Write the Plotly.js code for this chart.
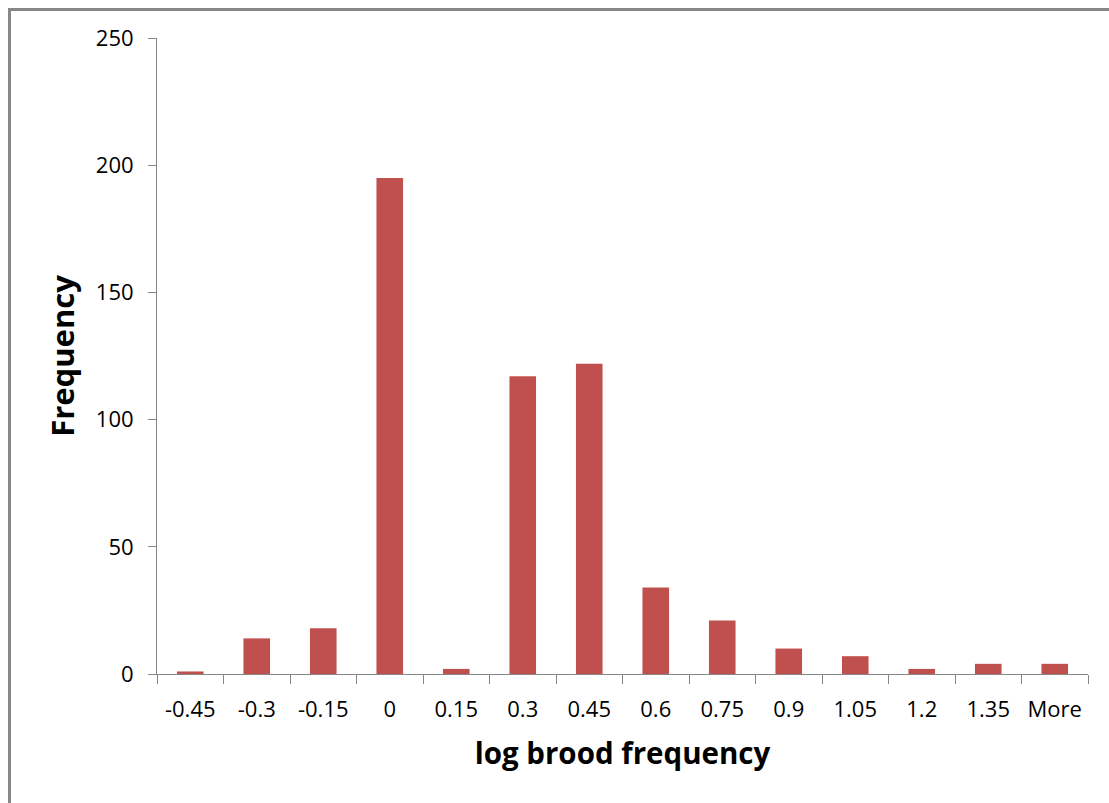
<!DOCTYPE html>
<html>
<head>
<meta charset="utf-8">
<script src="https://cdn.plot.ly/plotly-3.0.1.min.js"></script>
<style>
html, body { margin:0; padding:0; background:#fff; overflow:hidden; }
#chart { position:absolute; left:0; top:0; width:1109px; height:803px; }
#frame { position:absolute; left:8px; top:8px; width:1300px; height:1000px; border:3px solid #878787; pointer-events:none; box-sizing:border-box; }
</style>
</head>
<body>
<div id="chart"></div>
<div id="frame"></div>
<script>
const categories = ["-0.45","-0.3","-0.15","0","0.15","0.3","0.45","0.6","0.75","0.9","1.05","1.2","1.35","More"];
const frequencies = [1, 14, 18, 195, 2, 117, 122, 34, 21, 10, 7, 2, 4, 4];
const yTicks = [0, 50, 100, 150, 200, 250];

const axisColor = "#868686";
const fontFam = "Open Sans, sans-serif";

Plotly.newPlot("chart", [{
  type: "bar",
  x: categories,
  y: frequencies,
  marker: { color: "#C0504D", line: { width: 0 } },
  hoverinfo: "x+y"
}], {
  width: 1109,
  height: 803,
  margin: { l: 157, r: 21, t: 38, b: 129 },
  paper_bgcolor: "#ffffff",
  plot_bgcolor: "#ffffff",
  bargap: 0.6,
  showlegend: false,
  xaxis: {
    type: "category",
    showline: true,
    linecolor: axisColor,
    linewidth: 1,
    ticks: "outside",
    tickson: "boundaries",
    ticklen: 9,
    tickcolor: axisColor,
    tickwidth: 1,
    showgrid: false,
    zeroline: false,
    ticklabelstandoff: 16,
    tickfont: { family: fontFam, size: 22, color: "#000" },
    title: { text: "log brood frequency", font: { family: fontFam, size: 29.5, color: "#000", weight: "bold" }, standoff: 20 }
  },
  yaxis: {
    range: [0, 250],
    tickvals: yTicks,
    showline: true,
    linecolor: axisColor,
    linewidth: 1,
    ticks: "outside",
    ticklen: 8,
    tickcolor: axisColor,
    tickwidth: 1,
    showgrid: false,
    zeroline: false,
    ticklabelstandoff: 10,
    tickfont: { family: fontFam, size: 22, color: "#000" },
    title: { text: "Frequency", font: { family: fontFam, size: 31, color: "#000", weight: "bold" }, standoff: 11 }
  }
}, { displayModeBar: false, staticPlot: true });
</script>
</body>
</html>
